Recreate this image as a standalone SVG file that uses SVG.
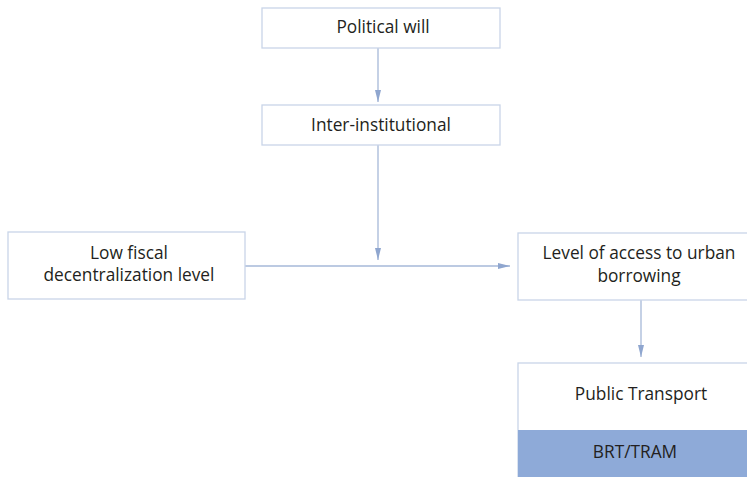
<svg xmlns="http://www.w3.org/2000/svg" width="747" height="477" viewBox="0 0 747 477">
  <defs>
    <style>
      .box { fill: #ffffff; stroke: #c9d5e8; stroke-width: 1.3; }
      .band { fill: #8eaad8; stroke: none; }
      .lbl { font-family: "Open Sans", "Noto Sans", sans-serif; font-size: 17.3px; fill: #231f20; text-anchor: middle; }
      .edge { stroke: #a6b8d8; stroke-width: 1.3; fill: none; }
    </style>
    <marker id="arrow" viewBox="0 0 12 10" refX="12" refY="5" markerWidth="12" markerHeight="10" markerUnits="userSpaceOnUse" orient="auto">
      <path d="M0,2 L12,5 L0,8 Z" fill="#8fa6cf"/>
    </marker>
  </defs>

  <rect width="747" height="477" fill="#ffffff"/>

  <g id="connectors">
    <line class="edge" x1="378" y1="48" x2="378" y2="102" marker-end="url(#arrow)"/>
    <line class="edge" x1="378" y1="145" x2="378" y2="260" marker-end="url(#arrow)"/>
    <line class="edge" x1="245" y1="266" x2="510" y2="266" marker-end="url(#arrow)"/>
    <line class="edge" x1="641" y1="300" x2="641" y2="357" marker-end="url(#arrow)"/>
  </g>

  <g id="political-will">
    <rect class="box" x="262" y="8" width="238" height="40"/>
    <text class="lbl" x="383" y="33">Political will</text>
  </g>

  <g id="inter-institutional">
    <rect class="box" x="262" y="105" width="238" height="40"/>
    <text class="lbl" x="381" y="131">Inter-institutional</text>
  </g>

  <g id="low-fiscal">
    <rect class="box" x="8" y="232" width="237" height="67"/>
    <text class="lbl" x="129" y="259">Low fiscal</text>
    <text class="lbl" x="129" y="281">decentralization level</text>
  </g>

  <g id="urban-borrowing">
    <rect class="box" x="518" y="233" width="240" height="67"/>
    <text class="lbl" x="639" y="259">Level of access to urban</text>
    <text class="lbl" x="639" y="282">borrowing</text>
  </g>

  <g id="public-transport">
    <rect class="box" x="518" y="363" width="240" height="120"/>
    <rect class="band" x="518" y="430" width="240" height="50"/>
    <text class="lbl" x="641" y="400">Public Transport</text>
    <text class="lbl" x="635" y="458">BRT/TRAM</text>
  </g>
</svg>
